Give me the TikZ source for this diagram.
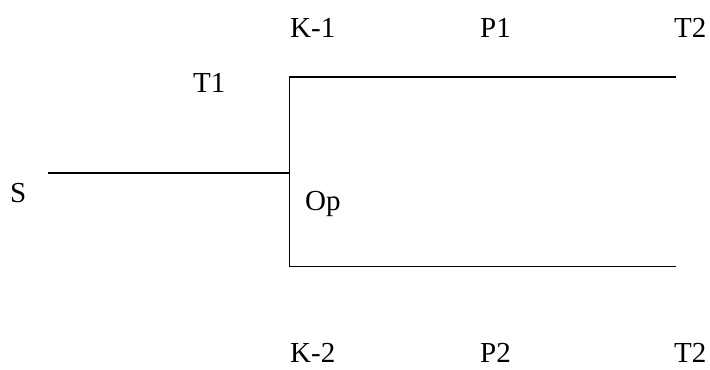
\documentclass[tikz,border=0pt]{standalone}
\usepackage{fontspec}
\setmainfont{Liberation Serif}
\begin{document}
\begin{tikzpicture}[x=1bp,y=-1bp,
  lbl/.style={anchor=base west,inner sep=0pt,font=\fontsize{29bp}{32bp}\selectfont},
  branch/.style={line width=1.5bp,line cap=rect}]
  \useasboundingbox (0,0) rectangle (710,369);
  % branch points of the tree
  \coordinate (s0) at (49,173);
  \coordinate (j) at (289.5,173);
  \coordinate (jt) at (289.5,77);
  \coordinate (jb) at (289.5,266.5);
  \coordinate (et) at (675,77);
  \coordinate (eb) at (675,266.5);
  % lines
  \draw[branch] (s0) -- (j);
  \draw[branch] (jt) -- (jb);
  \draw[branch] (jt) -- (et);
  \draw[branch] (jb) -- (eb);
  % labels
  \node[lbl] (k1) at (290,37.5) {K-1};
  \node[lbl] (p1) at (480,37.5) {P1};
  \node[lbl] (t2a) at (674,37.5) {T2};
  \node[lbl] (t1) at (193,92) {T1};
  \node[lbl] (s) at (10,202) {S};
  \node[lbl] (op) at (305,210) {Op};
  \node[lbl] (k2) at (290,362) {K-2};
  \node[lbl] (p2) at (480,362) {P2};
  \node[lbl] (t2b) at (674,362) {T2};
\end{tikzpicture}
\end{document}
